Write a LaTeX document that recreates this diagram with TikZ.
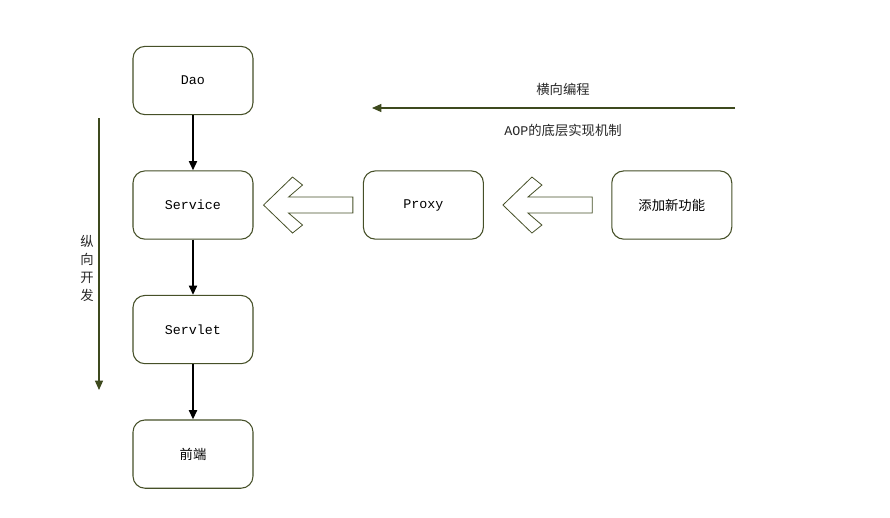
\documentclass[tikz,border=0pt]{standalone}
\usepackage{fontspec}
\setmainfont{Liberation Mono}
\newfontfamily\cjk{Noto Sans CJK SC}
\usetikzlibrary{arrows.meta,positioning,calc}
\definecolor{AopOliva}{RGB}{62,74,30}
\definecolor{AopBorda}{RGB}{70,80,40}
\tikzset{
  caixa/.style={draw=AopBorda, fill=white, rounded corners=9pt, line width=0.8pt,
                minimum width=90pt, minimum height=51.2pt, align=center, font=\fontsize{10}{12}\selectfont},
  setapreta/.style={-{Triangle[length=7pt,width=6pt]}, line width=1.5pt, black},
  setaoliva/.style={-{Triangle[length=7pt,width=6pt]}, line width=1pt, AopOliva},
  rotulo/.style={font=\cjk\fontsize{10}{12}\selectfont, text=black!85},
  blocoseta/.style={draw=AopBorda, fill=white, line width=0.6pt, line join=miter},
}
% seta larga: #1 = ponta, #2 = fim da haste
\newcommand{\setalarga}[2]{%
  \draw[blocoseta] (#1) -- ++(29,-28) -- ++(10,8) -- ++(-14,12)
    -- ($(#2)+(0,-8)$) -- ($(#2)+(0,8)$) -- ($(#1)+(25,8)$)
    -- ++(14,12) -- ++(-10,8) -- cycle;}

\begin{document}
\begin{tikzpicture}[x=0.75pt, y=-0.75pt]
  \useasboundingbox (0,0) rectangle (890,518);

  % Camadas
  \node[caixa] (dao) at (193,80.5) {Dao};
  \node[caixa, below=41.4pt of dao] (service) {Service};
  \node[caixa, below=41.4pt of service] (servlet) {Servlet};
  \node[caixa, below=41.4pt of servlet] (frontend) {\cjk 前端};

  % Proxy e funcionalidade nova
  \node[caixa, right=82pt of service] (proxy) {Proxy};
  \node[caixa, right=95.5pt of proxy] (novo) {\cjk 添加新功能};

  \draw[setapreta] (dao) -- (service);
  \draw[setapreta] (service) -- (servlet);
  \draw[setapreta] (servlet) -- (frontend);

  % setas largas
  \coordinate (p1) at ($(service.east)+(10,0)$);
  \coordinate (q1) at ($(proxy.west)+(-10,0)$);
  \coordinate (p2) at ($(proxy.east)+(19,0)$);
  \coordinate (q2) at ($(novo.west)+(-19,0)$);
  \setalarga{p1}{q1}
  \setalarga{p2}{q2}

  % Horizontal
  \coordinate (hini) at (735,108);
  \coordinate (hfim) at (372,108);
  \draw[setaoliva] (hini) -- (hfim);
  \node[rotulo] (horiz) at (563,89) {横向编程};
  \node[rotulo] (aop) at (563,130) {{\fontspec{Liberation Mono}AOP}的底层实现机制};

  % Vertical
  \coordinate (vini) at (99,118);
  \coordinate (vfim) at (99,390);
  \draw[setaoliva] (vini) -- (vfim);
  \node[rotulo, align=center, font=\cjk\fontsize{10}{13.5}\selectfont] (vert) at (87,268) {纵\\向\\开\\发};
\end{tikzpicture}
\end{document}
